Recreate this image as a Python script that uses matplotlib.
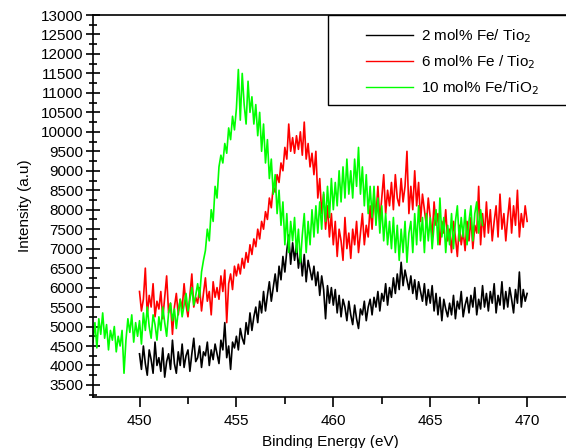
import numpy as np
import matplotlib
matplotlib.use("Agg")
from matplotlib import pyplot as plt
from matplotlib.patches import Rectangle
from matplotlib.ticker import MultipleLocator

plt.rcParams['font.family'] = ['Liberation Sans', 'DejaVu Sans']

# binding energy range of each scan (eV), 0.1 eV steps
black_range = (450.0, 470.0)
red_range = (450.0, 470.0)
green_range = (447.6, 467.7)

# 2 mol% Fe/TiO2 intensity (a.u)
black_counts = [
    4300, 3900, 4500, 4050, 3750, 4400, 4150, 3800, 4600, 4000,
    4200, 3850, 4450, 3700, 4100, 4300, 3900, 4650, 4050, 3800,
    4350, 4000, 4550, 3950, 4250, 4400, 3850, 4300, 4700, 4100,
    4200, 4500, 3950, 4350, 4250, 4600, 4000, 4400, 4150, 4550,
    4300, 4050, 4650, 4400, 5100, 4200, 4500, 3900, 4600, 4450,
    4750, 4400, 4950, 4700, 4550, 5100, 4800, 5350, 4900, 5250,
    5500, 5100, 5650, 5350, 5900, 5400, 5800, 6150, 5650, 6000,
    6350, 5900, 6550, 6200, 6800, 6400, 6950, 7350, 6600, 7150,
    6700, 7100, 6500, 6900, 6300, 6850, 6150, 6700, 6450, 6200,
    6550, 6050, 6400, 5800, 6300, 5950, 5200, 6050, 5600, 6000,
    5550, 5950, 5350, 5800, 5250, 5700, 5500, 5150, 5650, 5300,
    5050, 5550, 5200, 4950, 5450, 5300, 5650, 5150, 5500, 5700,
    5300, 5750, 5500, 5900, 5400, 5850, 5650, 6100, 5550, 6000,
    5750, 6250, 5850, 6350, 5950, 6650, 6050, 6450, 6200, 5950,
    6300, 5850, 6200, 5700, 6150, 5900, 5650, 6100, 5550, 5950,
    5600, 6050, 5400, 5850, 5300, 5750, 5150, 5700, 5450, 5250,
    5600, 5300, 5800, 5200, 5650, 5450, 5900, 5250, 5550, 5750,
    5350, 5800, 5500, 6000, 5300, 5700, 5450, 6050, 5500, 5850,
    5400, 5900, 5600, 6100, 5350, 5800, 5550, 6150, 5450, 5900,
    5500, 6000, 5700, 5350, 5950, 5600, 6400, 5500, 5950, 5650,
    5850,
]

# 6 mol% Fe/TiO2
red_counts = [
    5900, 5400, 5700, 6500, 5300, 5800, 5500, 6100, 5250, 5650,
    5450, 5900, 5200, 5750, 6300, 5350, 5600, 4800, 5500, 5850,
    5300, 5700, 5450, 6100, 5550, 5250, 5800, 6350, 5500, 5750,
    5600, 6000, 5400, 5850, 6250, 5650, 5900, 5300, 6150, 5750,
    6000, 5700, 6300, 5900, 6450, 5100, 6100, 6350, 5950, 6550,
    6300, 6600, 6350, 6750, 6500, 6900, 6650, 7100, 6850, 7250,
    7050, 7500, 7250, 7700, 7500, 7950, 7750, 8300, 8050, 8600,
    8450, 8900, 8700, 9200, 9000, 9600, 9300, 10200, 9500, 9850,
    9450, 9900, 9550, 10000, 9400, 10250, 9300, 9700, 9100, 9450,
    8900, 9500, 8300, 8800, 7900, 8400, 7500, 8100, 7300, 7900,
    7100, 7700, 6800, 7500, 7200, 6700, 7800, 7000, 7400, 6750,
    7500, 7100, 7700, 6900, 7400, 7900, 7100, 7600, 7300, 8100,
    7500, 8400, 7800, 8600, 7700, 8300, 8900, 7900, 8500, 8100,
    8700, 8000, 8900, 8300, 8100, 8800, 8200, 8600, 9500, 7900,
    8600, 8000, 9000, 8100, 8700, 7700, 8400, 8000, 7600, 8300,
    7800, 7300, 8200, 7600, 7900, 7100, 7700, 7400, 8000, 7200,
    7500, 6900, 7700, 7300, 6800, 7600, 7100, 7450, 6950, 7700,
    7200, 7800, 7000, 7600, 7400, 8600, 7100, 7900, 7300, 8200,
    7400, 8000, 7200, 7700, 8100, 7300, 8400, 7500, 7900, 7200,
    7800, 8300, 7400, 8100, 7600, 8500, 7300, 7900, 7550, 8100,
    7700,
]

# 10 mol% Fe/TiO2
green_counts = [
    4600, 5100, 4450, 5200,
    4800, 5350, 4700, 5050, 4400, 4900, 4650, 5000, 4350, 4750,
    4500, 4900, 3800, 4650, 5200, 4850, 5300, 4600, 5100, 4750,
    5150, 4550, 5350, 4900, 5500, 5000, 4700, 5300, 5050, 4650,
    5250, 4900, 5500, 5100, 4750, 5350, 5600, 5150, 5450, 4950,
    5400, 5700, 5250, 5550, 5850, 5400, 5700, 6000, 5550, 5800,
    6100, 5750, 6400, 6700, 6950, 7500, 7200, 8000, 7700, 8600,
    8300, 9100, 9400, 9200, 9700, 9450, 10100, 9800, 10400, 10050,
    10600, 11600, 10300, 11500, 10700, 10200, 11300, 10500, 10900, 10200,
    10700, 9900, 10500, 9500, 10200, 9200, 9800, 8800, 9300, 8400,
    8900, 7900, 8500, 7600, 8200, 7100, 7900, 6900, 7700, 7200,
    7800, 6900, 7500, 6650, 7350, 7900, 6900, 7700, 7100, 8000,
    7300, 8100, 7400, 8200, 7500, 8450, 7700, 8600, 7800, 8800,
    8000, 8700, 8100, 9000, 8200, 9100, 8300, 9300, 8400, 9000,
    8300, 9300, 8600, 9600, 8400, 9100, 8100, 8900, 7900, 8600,
    7800, 8600, 7600, 8300, 7400, 8100, 7200, 7900, 7100, 7700,
    7000, 7800, 6900, 7600, 6700, 7500, 6900, 7700, 6650, 7400,
    7700, 6900, 7900, 7100, 8100, 7200, 7800, 6900, 7900, 7200,
    7800, 7000, 7600, 8000, 7100, 8300, 7300, 7800, 6900, 7600,
    7100, 7900, 7000, 7700, 8100, 7200, 7800, 7300, 8000, 7100,
    7700, 8100, 7200, 7900, 8200, 7400, 8000, 7600,
]

labels = ['2 mol% Fe/ Tio$_2$', '6 mol% Fe / Tio$_2$', '10 mol% Fe/TiO$_2$']

fig = plt.figure(figsize=(5.66, 4.48), dpi=100)
ax = fig.add_axes([0.1643, 0.1138, 0.8372, 0.8527])

series = [(black_range, black_counts, 'black'),
          (red_range, red_counts, '#ff0000'),
          (green_range, green_counts, '#00ff00')]
for (e0, e1), counts, color in series:
    energy = np.linspace(e0, e1, len(counts))
    ax.plot(energy, counts, color=color, lw=1.2)

ax.set_xlim(447.6, 472.05)
ax.set_ylim(3190, 13000)
ax.xaxis.set_major_locator(MultipleLocator(5))
ax.xaxis.set_minor_locator(MultipleLocator(2.5))
ax.yaxis.set_major_locator(MultipleLocator(500))
ax.yaxis.set_minor_locator(MultipleLocator(250))
ax.tick_params(axis='both', which='major', labelsize=11, width=1.2, colors='black')
ax.tick_params(axis='y', which='major', direction='inout', length=10, pad=2)
ax.tick_params(axis='y', which='minor', direction='inout', length=6, width=1.2)
ax.tick_params(axis='x', which='major', direction='out', length=7, pad=5)
ax.tick_params(axis='x', which='minor', direction='out', length=5, width=1.2)
for side in ax.spines.values():
    side.set_linewidth(1.2)

ax.set_xlabel('Binding Energy (eV)', fontsize=11, labelpad=5)
ax.set_ylabel('Intensity (a.u)', fontsize=11, labelpad=6)

# legend box
ax.add_patch(Rectangle((0.497, 0.764), 0.51, 0.236, transform=ax.transAxes,
                       facecolor='white', edgecolor='black', lw=1.0, zorder=4))
leg = ax.legend(labels, loc='upper left', bbox_to_anchor=(0.55, 1.0),
                frameon=False, fontsize=11, handlelength=3.1,
                handletextpad=0.5, labelspacing=0.55, borderpad=0.3)
leg.set_zorder(5)
for line in leg.get_lines():
    line.set_linewidth(1.0)

fig.savefig('out.png', dpi=100)
